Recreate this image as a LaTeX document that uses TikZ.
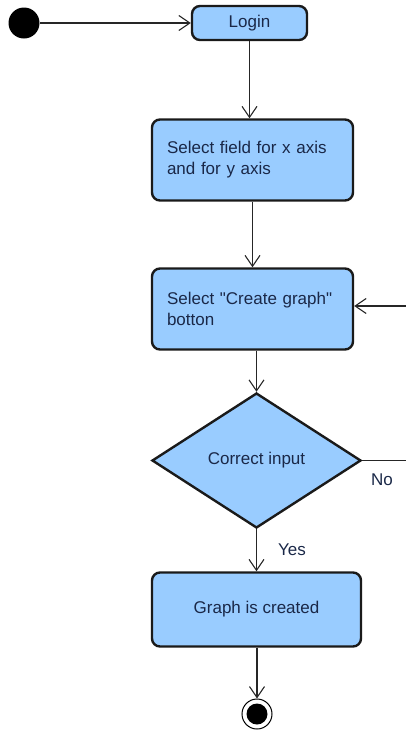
\documentclass[tikz,border=0pt]{standalone}
\usepackage{fontspec}
\setmainfont{Liberation Sans}
\newfontfamily\diafont{Liberation Sans}
\usetikzlibrary{shapes.geometric,arrows.meta}
\definecolor{boxfill}{HTML}{99CCFF}
\definecolor{boxline}{HTML}{1A1A1A}
\definecolor{txt}{HTML}{1A2848}
\begin{document}
\begin{tikzpicture}[x=1pt,y=-1pt,
  act/.style={draw=boxline, line width=2.4pt, fill=boxfill, rounded corners=8pt, text=txt, font=\diafont\fontsize{17}{21}\selectfont, inner sep=0pt},
  dec/.style={diamond, draw=boxline, line width=2.4pt, fill=boxfill, aspect=1.55, text=txt, font=\diafont\fontsize{17}{21}\selectfont, inner sep=0pt},
  flow/.style={draw=black!85, line width=1.1pt, -{Straight Barb[length=11pt,width=15pt,line width=1.1pt]}},
  lbl/.style={text=txt, font=\diafont\fontsize{17}{21}\selectfont, inner sep=0pt}]
\useasboundingbox (0,0) rectangle (406,732);
\clip (0,0) rectangle (406,732);
\node[circle, fill=black, minimum size=31pt, inner sep=0pt] (start) at (24,23) {};
\node[act, minimum width=115pt, minimum height=34pt] (login) at (249.5,23) {Login};
\node[act, minimum width=201pt, minimum height=81pt, text width=171pt, align=left] (sel) at (252.5,160) {Select field for x axis\\and for y axis};
\node[act, minimum width=201pt, minimum height=81pt, text width=171pt, align=left] (crt) at (252.5,309) {Select "Create graph"\\botton};
\node[dec, minimum width=209pt, minimum height=135pt] (cond) at (256.5,460.5) {Correct input};
\node[act, minimum width=209pt, minimum height=74pt] (gr) at (256.5,609.5) {Graph is created};
\node[circle, draw=black, line width=1pt, fill=white, minimum size=30pt, inner sep=0pt] (end) at (257,714) {};
\node[circle, fill=black, minimum size=21pt, inner sep=0pt] (endin) at (end.center) {};
\coordinate (nr) at (412,460.5);
\coordinate (nu) at (412,306);
\draw[flow] (start.east) -- (login.west);
\draw[flow] (login.south) -- (login.south |- sel.north);
\draw[flow] (sel.south) -- (sel.south |- crt.north);
\draw[flow] (crt.south -| cond.north) -- (cond.north);
\draw[flow] (cond.south) -- (gr.north);
\draw[flow] (gr.south -| end.north) -- (end.north);
\draw[flow] (cond.east) -- (nr) -- (nu) -- (crt.east |- nu);
\node[lbl] (no) at (382,480) {No};
\node[lbl] (yes) at (292,550) {Yes};
\end{tikzpicture}
\end{document}
